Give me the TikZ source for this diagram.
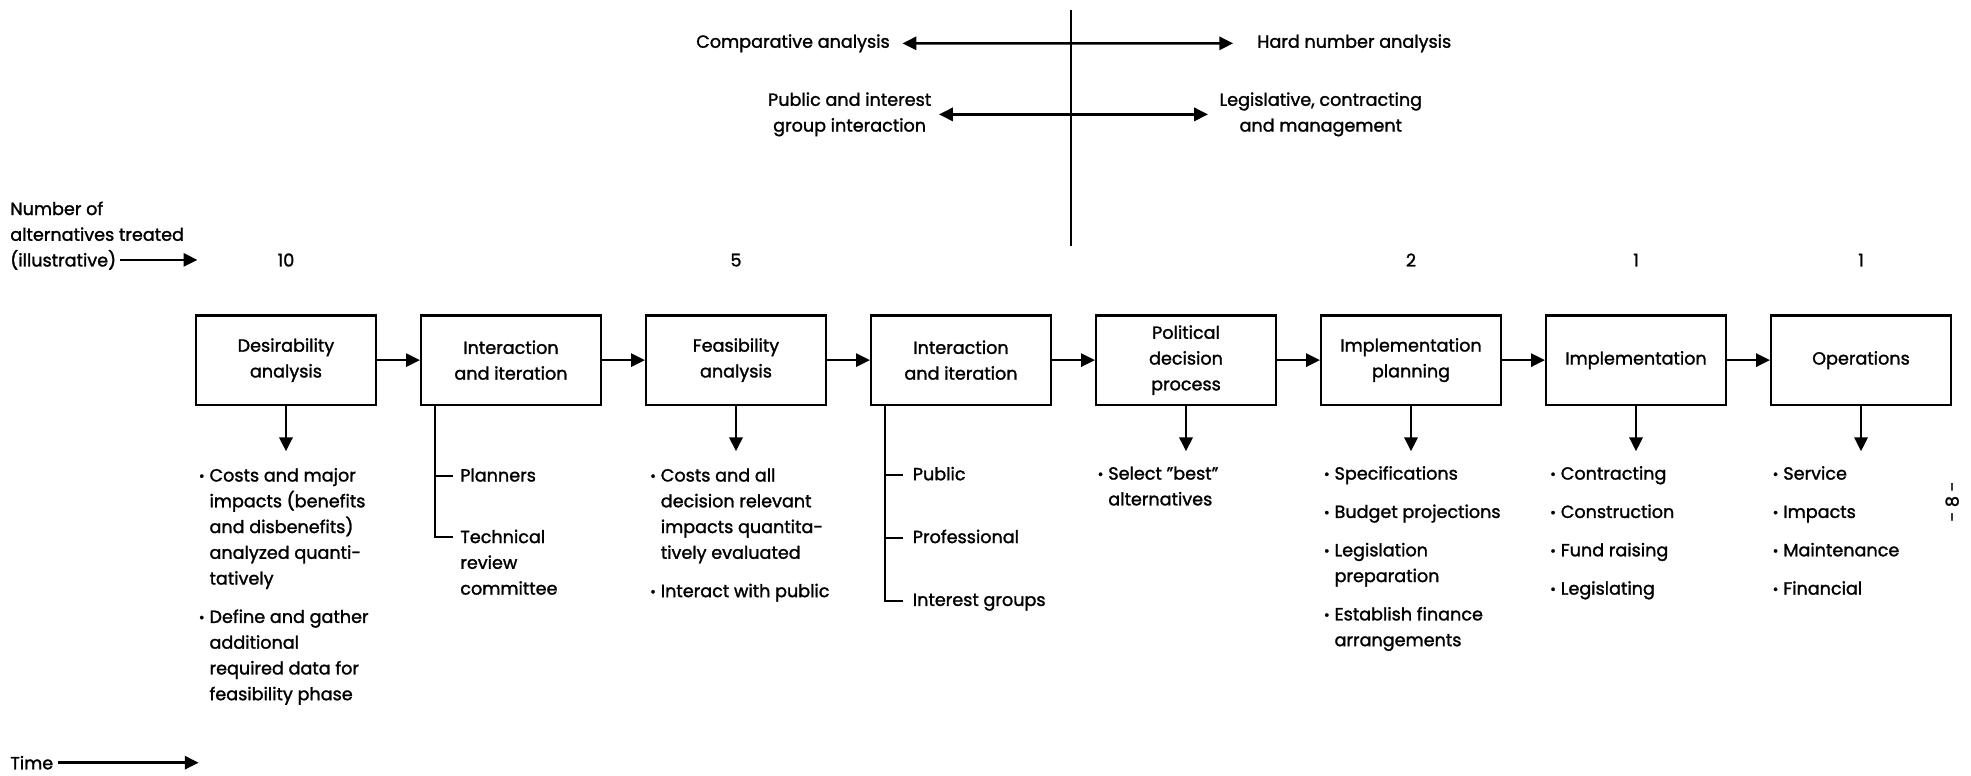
\documentclass[tikz,border=0pt]{standalone}
\usepackage{fontspec}
\setmainfont{Poppins}[FakeBold=1.5]
\usetikzlibrary{arrows.meta,calc}
% small list bullet and the matching hanging indent
\newcommand\bul{\makebox[8.5pt][l]{\raisebox{0.5pt}{\scalebox{0.8}{\textbullet}}}}
\newcommand\ind{\hspace*{8.5pt}}
\begin{document}
\begin{tikzpicture}[x=1pt,y=-1pt,
  every node/.style={font=\fontsize{14}{20.5}\selectfont},
  stage/.style={draw,line width=1.9pt,minimum width=143pt,minimum height=71pt,inner sep=2pt,align=center},
  flow/.style={line width=1.9pt,-{Triangle[length=11pt,width=10.5pt]}},
  twoway/.style={line width=1.9pt,{Triangle[length=11pt,width=10.5pt]}-{Triangle[length=11pt,width=10.5pt]}},
  trunk/.style={line width=1.7pt},
  lbl/.style={anchor=north west,inner sep=0pt,align=left}]
\useasboundingbox (0,0) rectangle (1568,617);

% ---- analysis spectrum at the top ----
\coordinate (vtop) at (852,8);
\coordinate (vbot) at (852,196);
\draw[trunk] (vtop) -- (vbot);

\node[anchor=base east,inner sep=0pt] (cmp) at (708,38) {Comparative analysis};
\node[anchor=base west,inner sep=0pt] (hard) at (1000,38) {Hard number analysis};
\draw[twoway,shorten <=10pt,shorten >=19pt] (cmp.east) -- (hard.west);

\node[anchor=east,inner sep=0pt,align=center] (pub) at (741,91) {Public and interest\\group interaction};
\node[anchor=west,inner sep=0pt,align=center] (leg) at (970,91) {Legislative, contracting\\and management};
\draw[twoway,shorten <=6pt,shorten >=9pt] (pub.east) -- (leg.west);

% ---- left-hand labels ----
\node[lbl] (num) at (8,156.5) {\strut Number of\\alternatives treated};
\node[anchor=base west,inner sep=0pt] (ill) at (8,212) {(illustrative)};
\coordinate (illtip) at (157,208);
\draw[flow,shorten <=3pt] (ill.east) -- (ill.east -| illtip);

\node[anchor=base west,inner sep=0pt] (time) at (8,612) {Time};
\coordinate (timetip) at (158,608);
\draw[flow,shorten <=4pt] (time.east) -- (time.east -| timetip);

% ---- process stages ----
\node[stage] (b1) at (227.5,286.5) {Desirability\\analysis};
\node[stage] (b2) at (406.5,286.5) {Interaction\\and iteration};
\node[stage] (b3) at (585.5,286.5) {Feasibility\\analysis};
\node[stage] (b4) at (764.5,286.5) {Interaction\\and iteration};
\node[stage] (b5) at (943.5,286.5) {Political\\decision\\process};
\node[stage] (b6) at (1122.5,286.5) {Implementation\\planning};
\node[stage] (b7) at (1301.5,286.5) {Implementation};
\node[stage] (b8) at (1480.5,286.5) {Operations};

\draw[flow] (b1) -- (b2);
\draw[flow] (b2) -- (b3);
\draw[flow] (b3) -- (b4);
\draw[flow] (b4) -- (b5);
\draw[flow] (b5) -- (b6);
\draw[flow] (b6) -- (b7);
\draw[flow] (b7) -- (b8);

% number of alternatives carried at each stage
\coordinate (numrow) at (0,212);
\node[anchor=base] (n1) at (b1 |- numrow) {10};
\node[anchor=base] (n3) at (b3 |- numrow) {5};
\node[anchor=base] (n6) at (b6 |- numrow) {2};
\node[anchor=base] (n7) at (b7 |- numrow) {1};
\node[anchor=base] (n8) at (b8 |- numrow) {1};

% ---- outputs of each stage ----
\coordinate (tips) at (0,359);
\foreach \b in {b1,b3,b5,b6,b7,b8}
  \draw[flow] (\b.south) -- (\b.south |- tips);

\node[lbl] (l1) at (158,368.5) {\strut\bul Costs and major\\\ind impacts (benefits\\\ind and disbenefits)\\\ind analyzed quanti-\\\ind tatively\\[10pt]\bul Define and gather\\\ind additional\\\ind required data for\\\ind feasibility phase};

\node[lbl] (l3) at (517,368.5) {\strut\bul Costs and all\\\ind decision relevant\\\ind impacts quantita-\\\ind tively evaluated\\[10pt]\bul Interact with public};

\node[lbl] (l5) at (873,367) {\strut\bul Select \char"22 best\char"22\\\ind alternatives};

\node[lbl] (l6) at (1053,367) {\strut\bul Specifications\\[10pt]\bul Budget projections\\[10pt]\bul Legislation\\\ind preparation\\[10pt]\bul Establish finance\\\ind arrangements};

\node[lbl] (l7) at (1233,367) {\strut\bul Contracting\\[10pt]\bul Construction\\[10pt]\bul Fund raising\\[10pt]\bul Legislating};

\node[lbl] (l8) at (1410,367) {\strut\bul Service\\[10pt]\bul Impacts\\[10pt]\bul Maintenance\\[10pt]\bul Financial};

% participants in the interaction stages
\coordinate (t2) at ([xshift=12pt]b2.south west);
\node[lbl] (pl) at (366,368.5) {\strut Planners};
\node[lbl] (tr) at (366,417.5) {\strut Technical\\review\\committee};
\draw[trunk] (t2) |- ([xshift=-6pt,yshift=-9.4pt]tr.north west);
\draw[trunk] (t2 |- pl.west) -- ([xshift=-6pt]pl.west);

\coordinate (t4) at ([xshift=12pt]b4.south west);
\node[lbl] (pu) at (726,367.5) {\strut Public};
\node[lbl] (pr) at (726,417.5) {\strut Professional};
\node[lbl] (ig) at (726,467.5) {\strut Interest groups};
\draw[trunk] (t4) |- ([xshift=-8pt]ig.west);
\draw[trunk] (t4 |- pu.west) -- ([xshift=-8pt]pu.west);
\draw[trunk] (t4 |- pr.west) -- ([xshift=-8pt]pr.west);

% page number
\node[rotate=90,inner sep=0pt] (pg) at (1553,399) {- 8 -};
\end{tikzpicture}
\end{document}
